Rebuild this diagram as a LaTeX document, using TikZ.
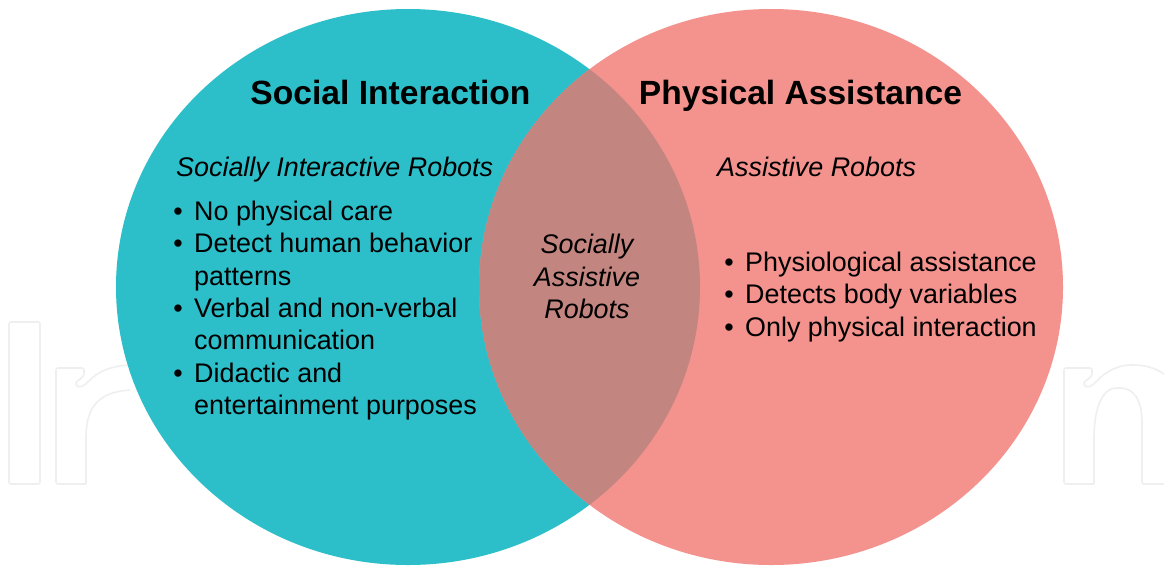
\documentclass[tikz,border=0pt]{standalone}
\usepackage{fontspec}
\setmainfont{Liberation Sans}
\definecolor{teal}{HTML}{2CBFC9}
\definecolor{salmon}{HTML}{F4928D}
\definecolor{overlapc}{HTML}{C38580}
\definecolor{wm}{HTML}{EFEFEF}
\begin{document}
\begin{tikzpicture}[x=1pt,y=-1pt,
  title/.style={inner sep=0pt,anchor=base,font=\fontsize{33.6}{40}\selectfont\bfseries},
  body/.style={inner sep=0pt,anchor=base west,font=\fontsize{26.9}{32.3}\selectfont},
  sub/.style={body,font=\fontsize{26.9}{32.3}\selectfont\itshape},
  ctr/.style={inner sep=0pt,anchor=base,font=\fontsize{26.9}{32.3}\selectfont\itshape},
  bul/.style={inner sep=0pt,anchor=base,font=\fontsize{26.9}{32.3}\selectfont},
  wmline/.style={draw=wm,line width=1.6pt,line join=round,rounded corners=2pt}]
\useasboundingbox (0,0) rectangle (1164,566);
\fill[white] (0,0) rectangle (1164,566);
% watermark outlines
\draw[wmline] (9,322) rectangle (40,484);
\draw[wmline] (86,484) -- (56,484) -- (56,368) -- (84,368) -- (84,376) -- (75,383)
  .. controls (78,388) and (82,387) .. (87,383) .. controls (97,372) and (110,366) .. (130,365);
\draw[wmline] (86,484) -- (86,440) .. controls (86,405) and (100,392) .. (130,390);
\draw[wmline] (1094,484) -- (1064,484) -- (1064,368) -- (1092,368) -- (1092,376) -- (1083,383)
  .. controls (1086,388) and (1090,387) .. (1095,383) .. controls (1105,372) and (1118,365) .. (1132,365)
  .. controls (1148,365) and (1160,370) .. (1166,376);
\draw[wmline] (1094,484) -- (1094,440) .. controls (1094,405) and (1104,388) .. (1118,388)
  .. controls (1134,388) and (1142,400) .. (1142,425) -- (1142,484) -- (1166,484);
% circles
\fill[teal] (408,287) ellipse [x radius=292, y radius=278];
\fill[salmon] (771,287) ellipse [x radius=292, y radius=278];
\begin{scope}
  \clip (408,287) ellipse [x radius=292, y radius=278];
  \fill[overlapc] (771,287) ellipse [x radius=292, y radius=278];
\end{scope}
% titles
\node[title] (t1) at (390.5,104) {Social Interaction};
\node[title] (t2) at (800.5,104) {Physical Assistance};
\node[sub] (s1) at (176,176.7) {Socially Interactive Robots};
\node[sub] (s2) at (717,176.7) {Assistive Robots};
% left list
\node[bul] (b1) at (178,220.5) {•};
\node[body] (l1) at (194,220.5) {No physical care};
\node[bul] (b2) at (178,252.8) {•};
\node[body] (l2) at (194,252.8) {Detect human behavior};
\node[body] (l3) at (194,285.1) {patterns};
\node[bul] (b3) at (178,317.4) {•};
\node[body] (l4) at (194,317.4) {Verbal and non-verbal};
\node[body] (l5) at (194,349.7) {communication};
\node[bul] (b4) at (178,382) {•};
\node[body] (l6) at (194,382) {Didactic and};
\node[body] (l7) at (194,414.3) {entertainment purposes};
% center
\node[ctr] (c1) at (587,253.7) {Socially};
\node[ctr] (c2) at (587,286) {Assistive};
\node[ctr] (c3) at (587,318.3) {Robots};
% right list
\node[bul] (rb1) at (729,271.5) {•};
\node[body] (r1) at (745,271.5) {Physiological assistance};
\node[bul] (rb2) at (729,303.8) {•};
\node[body] (r2) at (745,303.8) {Detects body variables};
\node[bul] (rb3) at (729,336.1) {•};
\node[body] (r3) at (745,336.1) {Only physical interaction};
\end{tikzpicture}
\end{document}
